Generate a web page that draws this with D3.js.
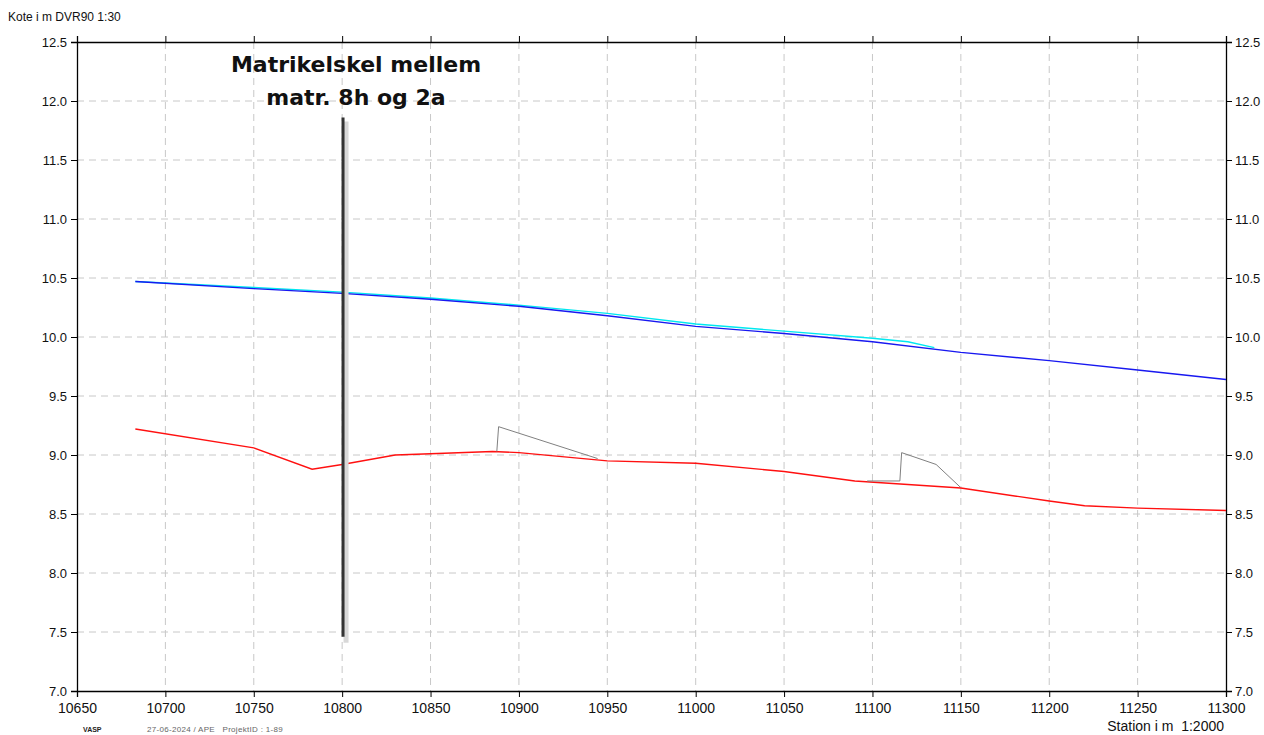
<!DOCTYPE html>
<html>
<head>
<meta charset="utf-8">
<script src="https://cdn.jsdelivr.net/npm/d3@7"></script>
<style>
body { margin:0; background:#fff; }
svg text { font-family: "Liberation Sans", Arial, sans-serif; white-space: pre; }
</style>
</head>
<body>
<svg width="1264" height="735"></svg>
<script>
// station / kote values
var blueSt = [10683, 10750, 10800, 10850, 10900, 10950, 11000, 11050, 11100, 11150, 11200, 11250, 11300];
var blueZ  = [10.47, 10.41, 10.37, 10.32, 10.26, 10.18, 10.09, 10.03, 9.96, 9.87, 9.80, 9.72, 9.64];
var cyanSt = [10683, 10750, 10800, 10850, 10900, 10950, 11000, 11050, 11100, 11120, 11135];
var cyanZ  = [10.47, 10.42, 10.38, 10.33, 10.27, 10.20, 10.11, 10.05, 9.99, 9.96, 9.91];
var redSt  = [10683, 10750, 10783, 10800, 10830, 10850, 10885, 10900, 10950, 11000, 11050, 11090, 11150, 11200, 11220, 11250, 11300];
var redZ   = [9.22, 9.06, 8.88, 8.92, 9.00, 9.01, 9.03, 9.02, 8.95, 8.93, 8.86, 8.78, 8.72, 8.61, 8.57, 8.55, 8.53];
var gray1St = [10887.5, 10888.5, 10944.5];
var gray1Z  = [9.03, 9.24, 8.97];
var gray2St = [11097, 11115.5, 11116.5, 11136, 11149.5];
var gray2Z  = [8.78, 8.78, 9.02, 8.92, 8.73];
var xTicks = d3.range(10650, 11301, 50);
var yTicks = d3.range(7.0, 12.51, 0.5);
var skelSt = 10800.5, skelTop = 11.86, skelBot = 7.46;

var svg = d3.select("svg");
var x = d3.scaleLinear().domain([10650, 11300]).range([77, 1226]);
var y = d3.scaleLinear().domain([7.0, 12.5]).range([691, 42]);

function zip(a, b){ return a.map(function(v, i){ return [v, b[i]]; }); }
var line = d3.line().x(function(d){ return x(d[0]); }).y(function(d){ return y(d[1]); });

// grid
var grid = svg.append("g").attr("stroke", "#c8c8c8").attr("stroke-dasharray", "7,5").attr("stroke-width", 1);
xTicks.slice(1, -1).forEach(function(t){
	grid.append("line").attr("x1", x(t)).attr("x2", x(t)).attr("y1", 42).attr("y2", 691);
});
yTicks.slice(1, -1).forEach(function(t){
	grid.append("line").attr("x1", 77).attr("x2", 1226).attr("y1", y(t)).attr("y2", y(t));
});

// axes
var fmt = d3.format(".1f");
svg.append("g").attr("class", "xb").attr("transform", "translate(0,691)")
	.call(d3.axisBottom(x).tickValues(xTicks).tickSize(6).tickPadding(6).tickFormat(d3.format("d")));
svg.append("g").attr("transform", "translate(0,42)")
	.call(d3.axisTop(x).tickValues(xTicks).tickSize(6).tickFormat(""));
svg.append("g").attr("transform", "translate(77,0)")
	.call(d3.axisLeft(y).tickValues(yTicks).tickSize(6).tickPadding(4).tickFormat(fmt));
svg.append("g").attr("transform", "translate(1226,0)")
	.call(d3.axisRight(y).tickValues(yTicks).tickSize(6).tickPadding(3).tickFormat(fmt));
svg.selectAll(".domain").attr("stroke", "#000").attr("stroke-width", 1.3);
svg.selectAll(".tick line").attr("stroke", "#000");
svg.selectAll(".tick text").attr("font-size", 13).attr("fill", "#111").style("font-family", "Liberation Sans, Arial, sans-serif");
svg.selectAll(".xb .tick text").attr("font-size", 14);

// profile lines
svg.append("path").attr("d", line(zip(cyanSt, cyanZ))).attr("fill", "none").attr("stroke", "#00e8f0").attr("stroke-width", 1.4);
svg.append("path").attr("d", line(zip(blueSt, blueZ))).attr("fill", "none").attr("stroke", "#1818f0").attr("stroke-width", 1.4);
svg.append("path").attr("d", line(zip(redSt, redZ))).attr("fill", "none").attr("stroke", "#ff1010").attr("stroke-width", 1.4);
svg.append("path").attr("d", line(zip(gray1St, gray1Z))).attr("fill", "none").attr("stroke", "#808080").attr("stroke-width", 1);
svg.append("path").attr("d", line(zip(gray2St, gray2Z))).attr("fill", "none").attr("stroke", "#808080").attr("stroke-width", 1);

// matrikelskel
svg.append("line").attr("x1", x(skelSt) + 3).attr("x2", x(skelSt) + 3).attr("y1", y(skelTop) + 4).attr("y2", y(skelBot) + 6)
	.attr("stroke", "#d8d8d8").attr("stroke-width", 5);
svg.append("line").attr("x1", x(skelSt)).attr("x2", x(skelSt)).attr("y1", y(skelTop)).attr("y2", y(skelBot))
	.attr("stroke", "#333").attr("stroke-width", 3);
var note = svg.append("text").attr("text-anchor", "middle").attr("font-size", 22).attr("font-weight", "bold").attr("fill", "#111")
	.style("font-family", "DejaVu Sans, sans-serif");
note.append("tspan").attr("x", 356).attr("y", 72).text("Matrikelskel mellem");
note.append("tspan").attr("x", 356).attr("y", 105).text("matr. 8h og 2a");

// labels
svg.append("text").attr("x", 8).attr("y", 21).attr("font-size", 12).attr("fill", "#111").text("Kote i m DVR90 1:30");
svg.append("text").attr("x", 1224).attr("y", 731).attr("text-anchor", "end").attr("font-size", 14).attr("fill", "#111").text("Station i m  1:2000");
svg.append("text").attr("x", 83).attr("y", 732).attr("font-size", 7).attr("font-weight", "bold").attr("fill", "#222").text("VASP");
svg.append("text").attr("x", 147).attr("y", 732).attr("font-size", 8).attr("letter-spacing", 0.3).attr("fill", "#666").text("27-06-2024 / APE   ProjektID : 1-89");
</script>
</body>
</html>
